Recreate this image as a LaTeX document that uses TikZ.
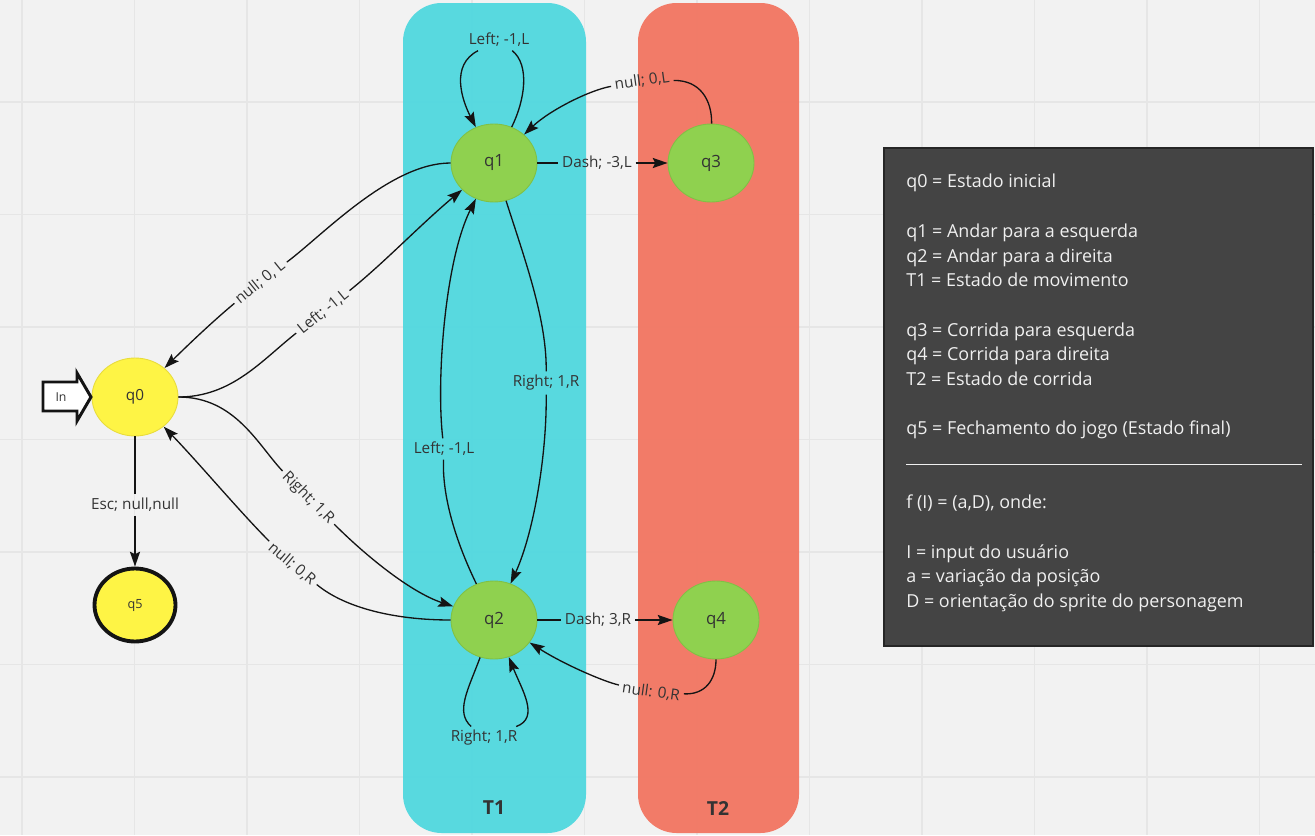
\documentclass[tikz,border=0pt]{standalone}
\usepackage{fontspec}
\setsansfont{Open Sans}
\usetikzlibrary{arrows.meta, shapes.geometric}
\definecolor{cbg}{HTML}{F2F2F2}
\definecolor{cgrid}{HTML}{E6E6E6}
\definecolor{ccyan}{HTML}{52D8DF}
\definecolor{csalmon}{HTML}{F27763}
\definecolor{cgreen}{HTML}{8FD14F}
\definecolor{cgreenline}{HTML}{80C145}
\definecolor{cyellow}{HTML}{FEF445}
\definecolor{cyellowline}{HTML}{E8DC3C}
\definecolor{cdark}{HTML}{444444}
\definecolor{cdarkline}{HTML}{262626}
\definecolor{cink}{HTML}{141414}
\definecolor{ctext}{HTML}{333333}
\definecolor{cpaper}{HTML}{F0F0F0}
\tikzset{
  every picture/.style={font=\sffamily},
  gridline/.style={draw=cgrid, line width=0.8pt},
  panel/.style={fill=#1, rounded corners=22pt, fill opacity=0.96},
  paneltitle/.style={font=\sffamily\bfseries\fontsize{11}{13}\selectfont, text=ctext},
  state/.style={ellipse, draw=#1line, fill=#1, line width=0.5pt, minimum width=1.72cm,
    minimum height=1.56cm, inner sep=0pt, text=ctext, font=\sffamily\fontsize{9.6}{11}\selectfont},
  state/.default=cgreen,
  final/.style={state=cyellow, draw=cink, line width=2.2pt, minimum width=1.62cm, minimum height=1.46cm},
  entry/.style={draw=cink, fill=white, line width=1.7pt, line join=miter},
  edge/.style={draw=cink, line width=0.75pt},
  arrow/.style={edge, -{Stealth[length=8.5pt, width=5.8pt, inset=1.5pt]}},
  lbl/.style={font=\sffamily\fontsize{8.7}{10}\selectfont, text=ctext, inner sep=2pt},
  legendbox/.style={fill=cdark, draw=cdarkline, line width=1.2pt},
  legend/.style={font=\sffamily\fontsize{10.2}{14.05}\selectfont, text=cpaper, align=left, inner sep=0pt},
}

\begin{document}
\begin{tikzpicture}[x=0.02cm, y=-0.02cm]
  \useasboundingbox[fill=cbg] (0,0) rectangle (1315,835);
  \foreach \i in {0,...,11}
    \draw[gridline] ({22+112.5*\i},0) -- ({22+112.5*\i},835);
  \foreach \j in {0,...,6}
    \draw[gridline] (0,{102+112.5*\j}) -- (1315,{102+112.5*\j});

  % groups T1 and T2
  \fill[panel=ccyan] (403,3) rectangle (586,833);
  \fill[panel=csalmon] (638,3) rectangle (799,833);
  \node[paneltitle] (t1) at (494,808) {T1};
  \node[paneltitle] (t2) at (718,808) {T2};

  % states
  \node[state=cyellow, font=\sffamily\fontsize{8.7}{10}\selectfont] (q0) at (135,397) {q0};
  \node[final, font=\sffamily\fontsize{7.2}{9}\selectfont] (q5) at (135,605) {q5};
  \node[state] (q1) at (494,163) {q1};
  \node[state] (q2) at (494,620) {q2};
  \node[state] (q3) at (711,163) {q3};
  \node[state] (q4) at (716,620) {q4};

  % entry marker
  \draw[entry] (43,382) -- (77,382) -- (77,373) -- (91,397) -- (77,421) -- (77,411) -- (43,411) -- cycle;
  \node[font=\sffamily\fontsize{7}{8}\selectfont, text=ctext] (inlbl) at (61,397) {In};

  % transition labels
  \node[lbl] (l05) at (135,505) {Esc; null,null};
  \node[lbl, rotate=39] (l10) at (260,282) {null; 0, L};
  \node[lbl, rotate=39] (l01) at (323,312) {Left; -1,L};
  \node[lbl, rotate=-45] (l02) at (308,498) {Right; 1,R};
  \node[lbl, rotate=-40] (l20) at (292,564) {null; 0,R};
  \node[lbl] (l12) at (546,383) {Right; 1,R};
  \node[lbl] (l21) at (444,449) {Left; -1,L};
  \node[lbl] (l11) at (499,40) {Left; -1,L};
  \node[lbl] (l22) at (484,738) {Right; 1,R};
  \node[lbl] (l13) at (597,163) {Dash; -3,L};
  \node[lbl] (l24) at (598,620) {Dash; 3,R};
  \node[lbl, rotate=8] (l31) at (642,81) {null; 0,L};
  \node[lbl, rotate=-8] (l42) at (651,692) {null: 0,R};

  % transitions
  \draw[edge] (q0) -- (l05);
  \draw[arrow] (l05) -- (q5);
  \draw[edge] (q1.west) .. controls (390,163) and (322,236) .. (l10);
  \draw[arrow] (l10) .. controls (212,322) and (188,345) .. (q0);
  \draw[edge] (q0.east) .. controls (232,397) and (262,360) .. (l01);
  \draw[arrow] (l01) .. controls (385,262) and (420,225) .. (q1);
  \draw[edge] (q0.east) .. controls (235,397) and (258,445) .. (l02);
  \draw[arrow] (l02) .. controls (365,555) and (410,592) .. (q2);
  \draw[edge] (q2.west) .. controls (395,620) and (345,608) .. (l20);
  \draw[arrow] (l20) .. controls (240,512) and (198,462) .. (q0);
  \draw[edge] (q1) .. controls (525,260) and (547,320) .. (l12);
  \draw[arrow] (l12) .. controls (547,450) and (535,530) .. (q2);
  \draw[edge] (q2) .. controls (455,540) and (442,495) .. (l21);
  \draw[arrow] (l21) .. controls (436,380) and (445,260) .. (q1);
  \draw[edge] (q1) .. controls (525,100) and (530,65) .. (l11);
  \draw[arrow] (l11) .. controls (450,65) and (462,100) .. (q1);
  \draw[edge] (q2) .. controls (468,690) and (455,712) .. (l22);
  \draw[arrow] (l22) .. controls (540,718) and (522,690) .. (q2);
  \draw[edge] (q1) -- (l13);
  \draw[arrow] (l13) -- (q3);
  \draw[edge] (q2) -- (l24);
  \draw[arrow] (l24) -- (q4);
  \draw[edge] (q3) .. controls (712,100) and (700,80) .. (l31);
  \draw[arrow] (l31) .. controls (590,90) and (550,110) .. (q1);
  \draw[edge] (q4) .. controls (716,680) and (705,695) .. (l42);
  \draw[arrow] (l42) .. controls (605,682) and (565,665) .. (q2);

  % legend
  \draw[legendbox] (884,148) rectangle (1313,646);
  \node[legend, anchor=north west] (key) at (906,174) {q0 = Estado inicial\\[14.05pt]
    q1 = Andar para a esquerda\\
    q2 = Andar para a direita\\
    T1 = Estado de movimento\\[14.05pt]
    q3 = Corrida para esquerda\\
    q4 = Corrida para direita\\
    T2 = Estado de corrida\\[14.05pt]
    q5 = Fechamento do jogo (Estado final)\\
    \rule[-3pt]{7.92cm}{0.6pt}\\[14.05pt]
    f (I) = (a,D), onde:\\[14.05pt]
    I = input do usuário\\
    a = variação da posição\\
    D = orientação do sprite do personagem};
\end{tikzpicture}
\end{document}
